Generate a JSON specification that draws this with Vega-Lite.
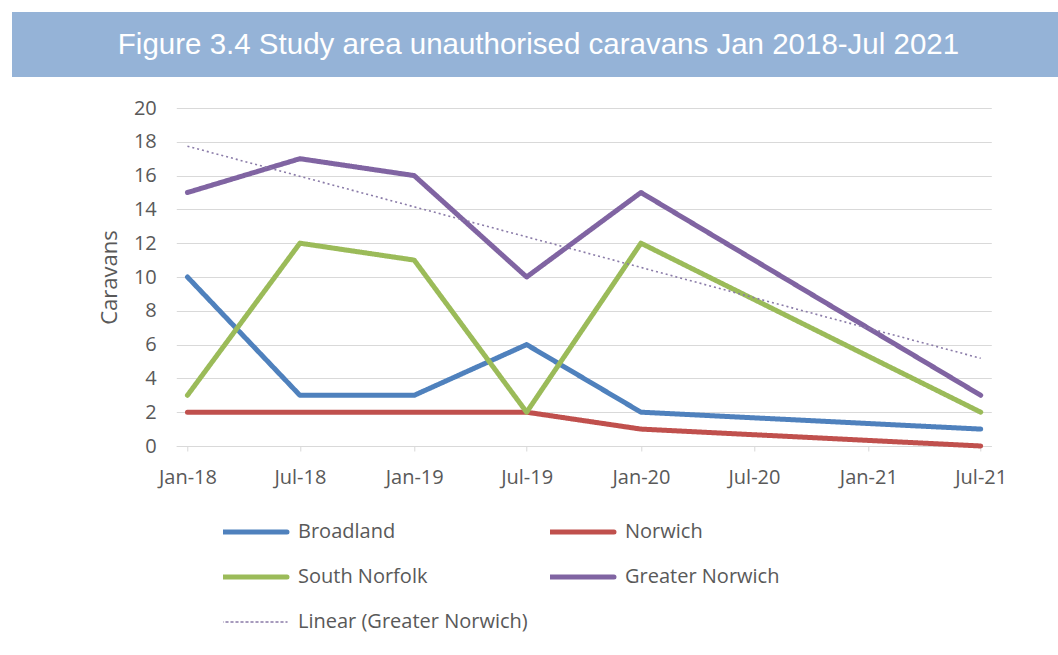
{
  "$schema": "https://vega.github.io/schema/vega-lite/v6.json",
  "background": "white",
  "padding": {"left": 12, "top": 12, "right": 0, "bottom": 0},
  "center": true,
  "spacing": 21,
  "config": {"font": "Open Sans", "view": {"stroke": null}},
  "datasets": {
    "lines": [
      {"date": "2018-01-01T00:00", "series": "Broadland", "value": 10},
      {"date": "2018-07-01T00:00", "series": "Broadland", "value": 3},
      {"date": "2019-01-01T00:00", "series": "Broadland", "value": 3},
      {"date": "2019-07-01T00:00", "series": "Broadland", "value": 6},
      {"date": "2020-01-01T00:00", "series": "Broadland", "value": 2},
      {"date": "2021-07-01T00:00", "series": "Broadland", "value": 1},
      {"date": "2018-01-01T00:00", "series": "Norwich", "value": 2},
      {"date": "2018-07-01T00:00", "series": "Norwich", "value": 2},
      {"date": "2019-01-01T00:00", "series": "Norwich", "value": 2},
      {"date": "2019-07-01T00:00", "series": "Norwich", "value": 2},
      {"date": "2020-01-01T00:00", "series": "Norwich", "value": 1},
      {"date": "2021-07-01T00:00", "series": "Norwich", "value": 0},
      {"date": "2018-01-01T00:00", "series": "South Norfolk", "value": 3},
      {"date": "2018-07-01T00:00", "series": "South Norfolk", "value": 12},
      {"date": "2019-01-01T00:00", "series": "South Norfolk", "value": 11},
      {"date": "2019-07-01T00:00", "series": "South Norfolk", "value": 2},
      {"date": "2020-01-01T00:00", "series": "South Norfolk", "value": 12},
      {"date": "2021-07-01T00:00", "series": "South Norfolk", "value": 2},
      {"date": "2018-01-01T00:00", "series": "Greater Norwich", "value": 15},
      {"date": "2018-07-01T00:00", "series": "Greater Norwich", "value": 17},
      {"date": "2019-01-01T00:00", "series": "Greater Norwich", "value": 16},
      {"date": "2019-07-01T00:00", "series": "Greater Norwich", "value": 10},
      {"date": "2020-01-01T00:00", "series": "Greater Norwich", "value": 15},
      {"date": "2021-07-01T00:00", "series": "Greater Norwich", "value": 3}
    ],
    "trend": [
      {"date": "2018-01-01T00:00", "series": "Linear (Greater Norwich)", "value": 17.74},
      {"date": "2021-07-01T00:00", "series": "Linear (Greater Norwich)", "value": 5.19}
    ],
    "heading": [
      {"title": "Figure 3.4 Study area unauthorised caravans Jan 2018-Jul 2021"}
    ]
  },
  "vconcat": [
    {
      "width": 1159,
      "height": 65,
      "view": {"fill": "#95B3D7", "stroke": null},
      "data": {"name": "heading"},
      "mark": {"type": "text", "color": "white", "font": "Liberation Sans", "fontSize": 29.5, "baseline": "middle", "align": "center", "dx": -53},
      "encoding": {"text": {"field": "title"}}
    },
    {
      "width": 815,
      "height": 338,
      "encoding": {
        "x": {
          "field": "date", "type": "temporal",
          "scale": {"domain": [{"year": 2017, "month": 12, "date": 14}, {"year": 2021, "month": 7, "date": 18}]},
          "axis": {
            "title": null,
            "values": [
              {"year": 2018, "month": 1, "date": 1}, {"year": 2018, "month": 7, "date": 1},
              {"year": 2019, "month": 1, "date": 1}, {"year": 2019, "month": 7, "date": 1},
              {"year": 2020, "month": 1, "date": 1}, {"year": 2020, "month": 7, "date": 1},
              {"year": 2021, "month": 1, "date": 1}, {"year": 2021, "month": 7, "date": 1}
            ],
            "format": "%b-%y",
            "grid": false,
            "domainColor": "#d9d9d9",
            "tickColor": "#d9d9d9",
            "tickSize": 5,
            "labelPadding": 16,
            "labelFontSize": 20,
            "labelColor": "#595959",
            "labelFlush": false,
            "labelOverlap": false
          }
        },
        "y": {
          "field": "value", "type": "quantitative",
          "scale": {"domain": [0, 20], "nice": false},
          "axis": {
            "title": "Caravans",
            "values": [0, 2, 4, 6, 8, 10, 12, 14, 16, 18, 20],
            "grid": true,
            "gridColor": "#d9d9d9",
            "domain": false,
            "ticks": false,
            "tickSize": 0,
            "labelPadding": 20,
            "labelFontSize": 20,
            "labelColor": "#595959",
            "labelOverlap": false,
            "titleFontSize": 22,
            "titleFontWeight": "normal",
            "titleColor": "#595959",
            "titlePadding": 12
          }
        },
        "color": {
          "field": "series", "type": "nominal",
          "scale": {
            "domain": ["Broadland", "Norwich", "South Norfolk", "Greater Norwich", "Linear (Greater Norwich)"],
            "range": ["#4F81BD", "#C0504D", "#9BBB59", "#8064A2", "#8A7BA8"]
          },
          "legend": {
            "title": null,
            "orient": "none",
            "legendX": 211,
            "legendY": 508,
            "direction": "horizontal",
            "columns": 2,
            "padding": 0,
            "symbolType": "stroke",
            "symbolSize": 4356,
            "symbolStrokeWidth": 5,
            "symbolOffset": 21,
            "clipHeight": 24,
            "rowPadding": 21,
            "columnPadding": 22,
            "labelOffset": 34,
            "labelFontSize": 20,
            "labelColor": "#595959",
            "labelLimit": 400,
            "encode": {"symbols": {"update": {"strokeWidth": {"signal": "datum.value === 'Linear (Greater Norwich)' ? 1.5 : 5"}, "strokeCap": {"value": "round"}}}}
          }
        },
        "strokeDash": {
          "field": "series", "type": "nominal",
          "scale": {
            "domain": ["Broadland", "Norwich", "South Norfolk", "Greater Norwich", "Linear (Greater Norwich)"],
            "range": [[1, 0], [1, 0], [1, 0], [1, 0], [2, 3]]
          },
          "legend": {
            "title": null,
            "orient": "none",
            "legendX": 211,
            "legendY": 508,
            "direction": "horizontal",
            "columns": 2,
            "padding": 0,
            "symbolType": "stroke",
            "symbolSize": 4356,
            "symbolStrokeWidth": 5,
            "symbolOffset": 21,
            "clipHeight": 24,
            "rowPadding": 21,
            "columnPadding": 22,
            "labelOffset": 34,
            "labelFontSize": 20,
            "labelColor": "#595959",
            "labelLimit": 400,
            "encode": {"symbols": {"update": {"strokeWidth": {"signal": "datum.value === 'Linear (Greater Norwich)' ? 1.5 : 5"}, "strokeCap": {"value": "round"}}}}
          }
        }
      },
      "layer": [
        {
          "data": {"name": "lines"},
          "mark": {"type": "line", "strokeWidth": 5, "strokeCap": "round", "strokeJoin": "round"}
        },
        {
          "data": {"name": "trend"},
          "mark": {"type": "line", "strokeWidth": 1.6, "strokeCap": "butt"}
        }
      ]
    }
  ]
}
